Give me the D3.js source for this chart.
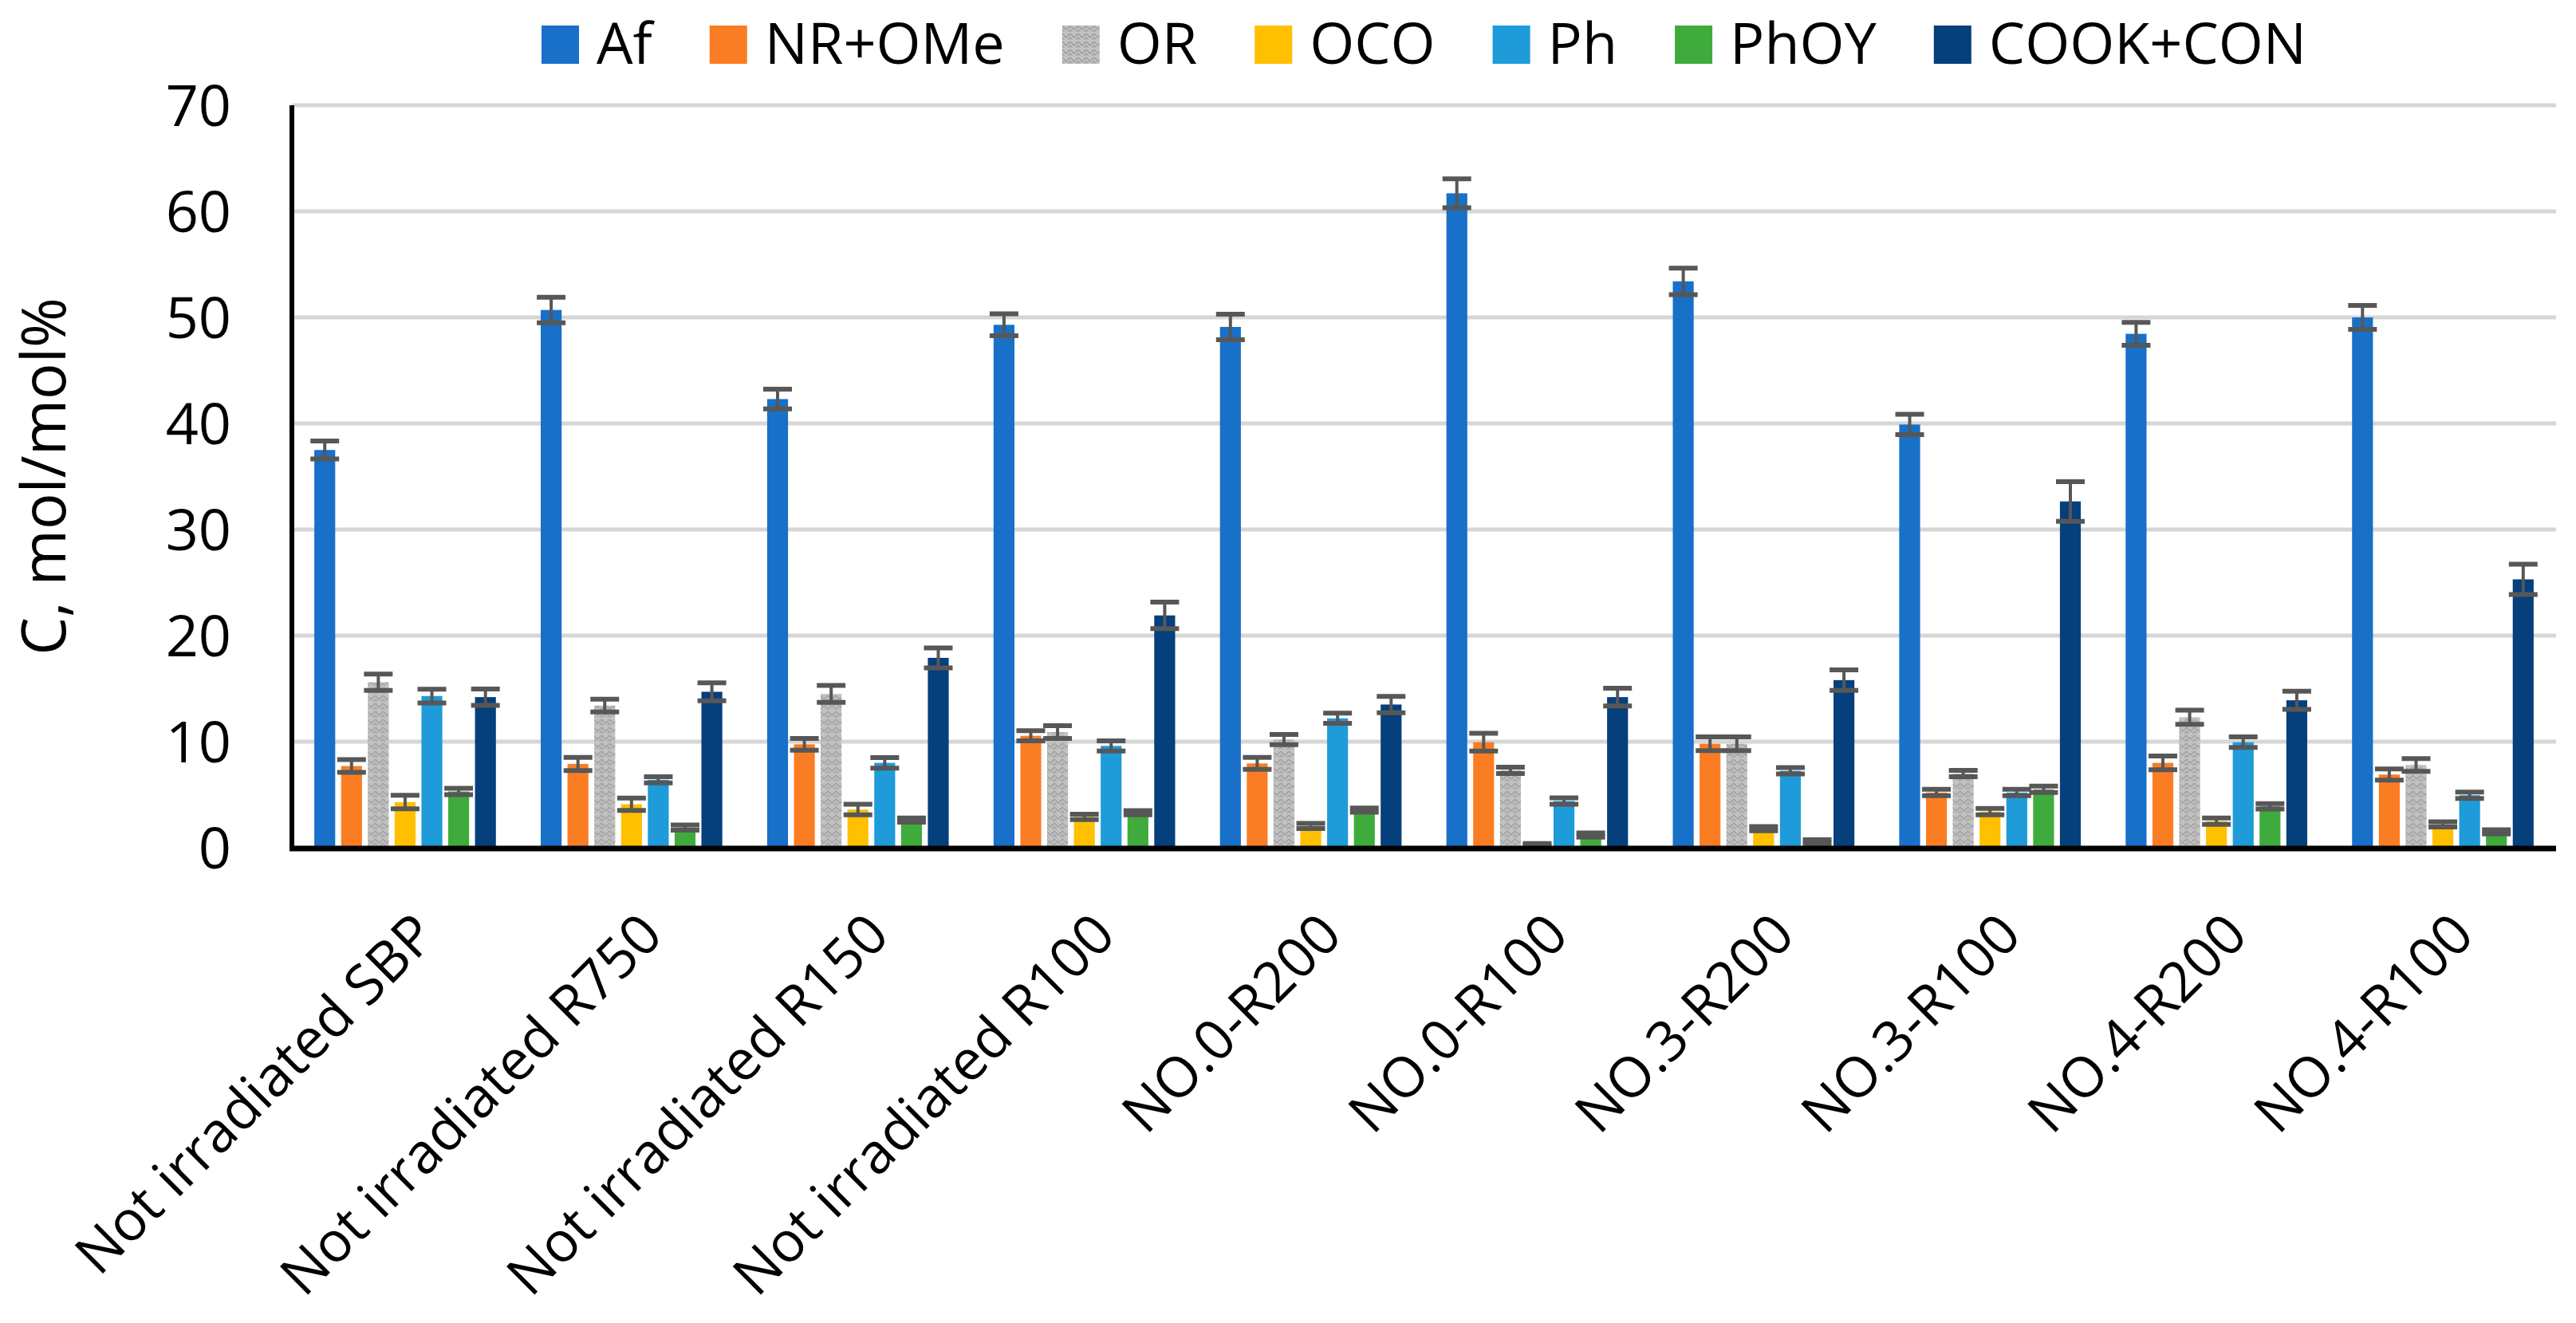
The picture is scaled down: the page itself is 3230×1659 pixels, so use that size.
<!DOCTYPE html>
<html>
<head>
<meta charset="utf-8">
<script src="https://cdn.jsdelivr.net/npm/d3@7"></script>
<style>
  html, body { margin: 0; padding: 0; background: #fff; }
  svg { display: block; font-family: "Open Sans", "Noto Sans", sans-serif; }
</style>
</head>
<body>
<svg id="chart" width="3230" height="1659"></svg>
<script>
// sample groups along the x axis
var categories = ["Not irradiated SBP", "Not irradiated R750", "Not irradiated R150", "Not irradiated R100",
  "NO.0-R200", "NO.0-R100", "NO.3-R200", "NO.3-R100", "NO.4-R200", "NO.4-R100"];
var series = ["Af", "NR+OMe", "OR", "OCO", "Ph", "PhOY", "COOK+CON"];
var yTicks = [0, 10, 20, 30, 40, 50, 60, 70];

// mean values, one array per series (same order as categories)
var af     = [37.5, 50.7, 42.3, 49.3, 49.1, 61.7, 53.4, 39.9, 48.45, 50.0];
var nrOMe  = [7.7, 7.9, 9.75, 10.55, 7.95, 9.95, 9.8, 5.2, 8.0, 6.9];
var or     = [15.6, 13.4, 14.5, 10.9, 10.2, 7.3, 9.8, 7.0, 12.3, 7.8];
var oco    = [4.3, 4.1, 3.6, 2.9, 2.05, 0.3, 1.8, 3.4, 2.5, 2.2];
var ph     = [14.3, 6.4, 8.0, 9.6, 12.2, 4.4, 7.25, 5.2, 9.95, 4.95];
var phoy   = [5.3, 1.9, 2.6, 3.3, 3.55, 1.2, 0.55, 5.5, 3.9, 1.5];
var cookCon = [14.2, 14.7, 17.9, 21.9, 13.5, 14.2, 15.8, 32.65, 13.9, 25.3];

// error bar half-widths
var afErr     = [0.85, 1.2, 0.93, 1.03, 1.2, 1.36, 1.25, 0.96, 1.08, 1.13];
var nrOMeErr  = [0.6, 0.62, 0.55, 0.48, 0.57, 0.84, 0.65, 0.3, 0.65, 0.53];
var orErr     = [0.77, 0.6, 0.8, 0.6, 0.48, 0.3, 0.65, 0.3, 0.67, 0.6];
var ocoErr    = [0.64, 0.58, 0.5, 0.25, 0.25, 0.1, 0.2, 0.3, 0.3, 0.25];
var phErr     = [0.65, 0.3, 0.5, 0.48, 0.48, 0.3, 0.3, 0.3, 0.5, 0.3];
var phoyErr   = [0.3, 0.25, 0.2, 0.2, 0.2, 0.2, 0.2, 0.3, 0.25, 0.2];
var cookConErr = [0.77, 0.84, 0.94, 1.25, 0.77, 0.84, 0.96, 1.87, 0.86, 1.43];

var values = [af, nrOMe, or, oco, ph, phoy, cookCon];
var errors = [afErr, nrOMeErr, orErr, ocoErr, phErr, phoyErr, cookConErr];
var colors = ["#1870c8", "#fb7d23", "url(#orHatch)", "#ffc000", "#1f9bd9", "#40ab3d", "#053f7c"];

(function () {
  "use strict";
  var svg = d3.select("#chart");
  var P = { l: 366, r: 3205, t: 132, b: 1063 };

  // zigzag fill used by the OR series
  var pat = svg.append("defs").append("pattern").attr("id", "orHatch")
    .attr("patternUnits", "userSpaceOnUse").attr("width", 10).attr("height", 10);
  pat.append("rect").attr("width", 10).attr("height", 10).attr("fill", "#c2c2c2");
  pat.append("path").attr("d", "M0,2 L5,7 L10,2 M0,7 L2.5,9.5 M7.5,9.5 L10,7")
    .attr("fill", "none").attr("stroke", "#a2a2a2").attr("stroke-width", 1.6);

  var x0 = d3.scaleBand().domain(categories).range([P.l, P.r])
    .paddingInner(0.172).paddingOuter(0.086);
  var x1 = d3.scaleBand().domain(series).range([0, x0.bandwidth()])
    .paddingInner(0.22).paddingOuter(0.11);
  var y = d3.scaleLinear().domain([0, 70]).range([P.b, P.t]);

  // gridlines
  svg.append("g").selectAll("line").data(yTicks.filter(function (d) { return d > 0; }))
    .join("line")
    .attr("x1", P.l).attr("x2", P.r)
    .attr("y1", function (d) { return y(d); }).attr("y2", function (d) { return y(d); })
    .attr("stroke", "#d6d6d6").attr("stroke-width", 5);

  // y tick labels
  var ay = d3.axisLeft(y).tickValues(yTicks).tickSize(0).tickPadding(76);
  var gy = svg.append("g").attr("transform", "translate(" + P.l + ",0)").call(ay);
  gy.select(".domain").remove();
  gy.selectAll("text").style("font-size", "72px").style("font-family", "Open Sans")
    .attr("fill", "#000").attr("dy", "0.36em");

  // bars
  var groups = svg.append("g").selectAll("g").data(categories).join("g")
    .attr("transform", function (c) { return "translate(" + x0(c) + ",0)"; });
  groups.each(function (c, ci) {
    var g = d3.select(this);
    series.forEach(function (s, si) {
      var v = values[si][ci];
      g.append("rect").attr("x", x1(s)).attr("width", x1.bandwidth())
        .attr("y", y(v)).attr("height", y(0) - y(v))
        .attr("fill", colors[si]);
    });
  });

  // error bars
  groups.each(function (c, ci) {
    var g = d3.select(this);
    series.forEach(function (s, si) {
      var v = values[si][ci], e = errors[si][ci];
      var cx = x1(s) + x1.bandwidth() / 2;
      g.append("line").attr("x1", cx).attr("x2", cx)
        .attr("y1", y(v - e)).attr("y2", y(v + e))
        .attr("stroke", "#575757").attr("stroke-width", 4);
      [v - e, v + e].forEach(function (t) {
        g.append("line").attr("x1", cx - 18).attr("x2", cx + 18)
          .attr("y1", y(t)).attr("y2", y(t))
          .attr("stroke", "#575757").attr("stroke-width", 6);
      });
    });
  });

  // axis lines
  svg.append("line").attr("x1", P.l).attr("x2", P.l).attr("y1", P.t).attr("y2", P.b + 3)
    .attr("stroke", "#000").attr("stroke-width", 6);
  svg.append("line").attr("x1", P.l - 3).attr("x2", P.r).attr("y1", P.b + 1).attr("y2", P.b + 1)
    .attr("stroke", "#000").attr("stroke-width", 7);

  // category labels, rotated
  svg.append("g").selectAll("text").data(categories).join("text")
    .attr("transform", function (c) {
      var cx = x0(c) + x0.bandwidth() / 2;
      return "translate(" + (cx + 42) + ",1176) rotate(-45)";
    })
    .attr("text-anchor", "end").style("font-size", "70px").attr("fill", "#000")
    .text(function (c) { return c; });

  // y axis title
  svg.append("text").attr("transform", "translate(82," + ((P.t + P.b) / 2) + ") rotate(-90)")
    .attr("text-anchor", "middle").style("font-size", "76px").attr("fill", "#000")
    .text("C, mol/mol%");

  // legend, centred over the plot
  var lg = svg.append("g");
  var items = series.map(function (s, i) {
    var it = lg.append("g");
    it.append("rect").attr("width", 47).attr("height", 48).attr("y", 32).attr("fill", colors[i]);
    var t = it.append("text").attr("x", 69).attr("y", 80).style("font-size", "72px")
      .attr("fill", "#000").text(s);
    return { g: it, w: 69 + t.node().getComputedTextLength() };
  });
  var total = d3.sum(items, function (d) { return d.w; }) + 72 * (items.length - 1);
  var xx = (P.l + P.r) / 2 - total / 2;
  items.forEach(function (d) {
    d.g.attr("transform", "translate(" + xx + ",0)");
    xx += d.w + 72;
  });
})();
</script>
</body>
</html>
